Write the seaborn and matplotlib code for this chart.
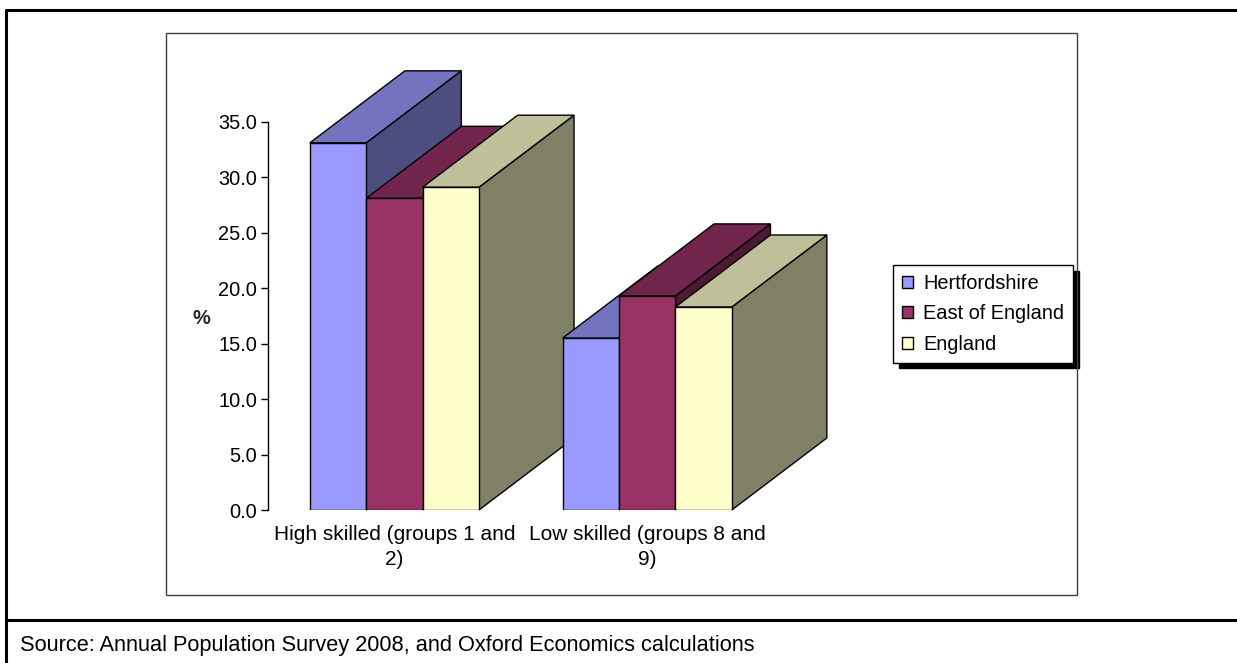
import seaborn as sns
import matplotlib.pyplot as plt
import matplotlib.patches as mpatches
from matplotlib.lines import Line2D
import matplotlib.colors as mcolors
import pandas as pd

sns.set_theme(style="white")
plt.rcParams["font.family"] = ["Liberation Sans", "DejaVu Sans"]
plt.rcParams["text.color"] = "black"

# data
groups = ["High skilled (groups 1 and\n2)", "Low skilled (groups 8 and\n9)"]
regions = ["Hertfordshire", "East of England", "England"]
hertfordshire = [33.1, 15.5]
east_of_england = [28.1, 19.3]
england = [29.1, 18.3]
y_ticks = [0, 5, 10, 15, 20, 25, 30, 35]
source_note = "Source: Annual Population Survey 2008, and Oxford Economics calculations"

front_colors = ["#9999FF", "#993366", "#FFFFCC"]

W, H = 1237, 663


def fx(px):
    return px / W


def fy(py):
    return 1 - py / H


def shade(color, factor):
    r, g, b = mcolors.to_rgb(color)
    return (r * factor, g * factor, b * factor)


data = pd.DataFrame({
    "group": groups * 3,
    "region": [r for r in regions for _ in groups],
    "value": hertfordshire + east_of_england + england,
})

fig = plt.figure(figsize=(W / 100, H / 100), dpi=100)
ax = fig.add_axes([fx(268), fy(510), fx(1077) - fx(268), fy(33) - fy(510)])

sns.barplot(data=data, x="group", y="value", hue="region", order=groups,
            hue_order=regions, palette=front_colors, saturation=1,
            width=0.669, gap=0, edgecolor="black", linewidth=1,
            legend=False, ax=ax)

ax.set_xlim(-0.5, 2.70)
ax.set_ylim(0, 43.0)

# fake 3D depth: top and side faces built from each bar's own geometry
depth_x, depth_y = 0.376, 6.49
bars = sorted(ax.patches, key=lambda p: p.get_x())
for k, bar in enumerate(bars):
    x0, w, h = bar.get_x(), bar.get_width(), bar.get_height()
    color = bar.get_facecolor()
    top = mpatches.Polygon(
        [(x0, h), (x0 + w, h), (x0 + w + depth_x, h + depth_y), (x0 + depth_x, h + depth_y)],
        closed=True, facecolor=shade(color, 0.75), edgecolor="black", lw=1,
        zorder=2 + 2 * k, clip_on=False)
    side = mpatches.Polygon(
        [(x0 + w, 0), (x0 + w + depth_x, depth_y), (x0 + w + depth_x, h + depth_y), (x0 + w, h)],
        closed=True, facecolor=shade(color, 0.5), edgecolor="black", lw=1,
        zorder=2 + 2 * k, clip_on=False)
    ax.add_patch(side)
    ax.add_patch(top)
    bar.set_zorder(3 + 2 * k)

sns.despine(ax=ax, bottom=True)
ax.spines["left"].set_bounds(0, 35)
ax.spines["left"].set_color("black")
ax.spines["left"].set_linewidth(1)
ax.set_yticks(y_ticks)
ax.set_yticklabels([f"{v:.1f}" for v in y_ticks])
ax.tick_params(axis="y", left=True, length=5, width=1, color="black", pad=3,
               labelsize=14.4, labelcolor="black")
ax.tick_params(axis="x", bottom=False, length=0, pad=11, labelsize=15,
               labelcolor="black")
for label in ax.get_xticklabels():
    label.set_linespacing(1.4)
ax.set_xlabel("")
ax.set_ylabel("%", rotation=0, fontweight="bold", fontsize=14.4, ha="center", va="center")
ax.yaxis.set_label_coords((201 - 268) / (1077 - 268), (510 - 318) / (510 - 33))

handles = [mpatches.Patch(facecolor=c, edgecolor="black", lw=1) for c in front_colors]
leg = ax.legend(handles, regions, loc="upper left",
                bbox_to_anchor=(fx(893), fy(265)), bbox_transform=fig.transFigure,
                borderaxespad=0, frameon=True, fancybox=False, edgecolor="black",
                framealpha=1, fontsize=14.4, handlelength=0.55, handleheight=0.55,
                handletextpad=0.5, borderpad=0.45, labelspacing=0.57,
                shadow={"ox": 4, "oy": -4, "facecolor": "black",
                        "edgecolor": "black", "alpha": 1})
leg.get_frame().set_linewidth(1)

# chart area border and outer frame
fig.add_artist(mpatches.Rectangle((fx(166), fy(595)), fx(1077) - fx(166), fy(33) - fy(595),
                                  transform=fig.transFigure, fill=False,
                                  edgecolor="#404040", lw=1))
fig.add_artist(Line2D([fx(6), fx(6), 1], [0, fy(10), fy(10)], lw=2.2, color="black"))
fig.add_artist(Line2D([fx(6), 1], [fy(620), fy(620)], lw=2.2, color="black"))

fig.text(fx(20), fy(651), source_note, fontsize=15.7, ha="left", va="baseline",
         color="black")

fig.savefig("out.png", dpi=100)
